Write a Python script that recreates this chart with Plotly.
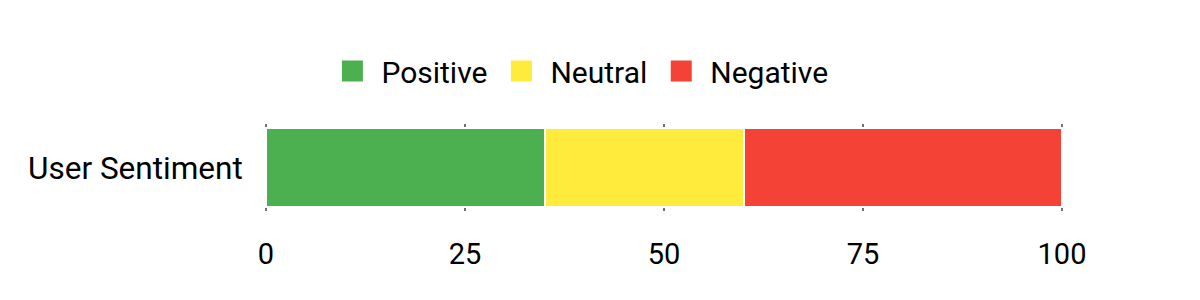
import plotly.graph_objects as go

categories = ["User Sentiment"]
series_names = ["Positive", "Neutral", "Negative"]
positive = [35]
neutral = [25]
negative = [40]
colors = ["#4caf50", "#ffeb3b", "#f44336"]
tick_vals = [0, 25, 50, 75, 100]

fig = go.Figure()
for name, vals, col in zip(series_names, [positive, neutral, negative], colors):
    fig.add_trace(go.Bar(
        y=categories, x=vals, name=name, orientation="h",
        marker=dict(color=col, line=dict(color="white", width=2)),
        showlegend=False,
    ))
    fig.add_trace(go.Scatter(
        x=[None], y=[None], mode="markers", name=name,
        marker=dict(symbol="square", size=16, color=col, line=dict(color=col, width=8)),
    ))

fig.update_layout(
    width=1200, height=300,
    barmode="stack", bargap=0.1,
    plot_bgcolor="white", paper_bgcolor="white",
    font=dict(family="Roboto", size=30, color="#000"),
    margin=dict(l=264, r=136, t=124, b=89),
    legend=dict(orientation="h", x=0.393, xanchor="center", y=1.61, yanchor="middle",
                font=dict(size=30), itemwidth=48, traceorder="normal"),
    xaxis=dict(range=[-0.25, 100.25], tickvals=tick_vals, showgrid=True, gridcolor="#707070",
               gridwidth=2, zeroline=False, showline=False, ticks="outside",
               ticklen=17, tickcolor="rgba(0,0,0,0)", tickfont=dict(size=29)),
    yaxis=dict(showgrid=False, ticks="outside", ticklen=14, tickcolor="rgba(0,0,0,0)",
               tickfont=dict(size=31.5)),
)

fig.write_html("out.html")
